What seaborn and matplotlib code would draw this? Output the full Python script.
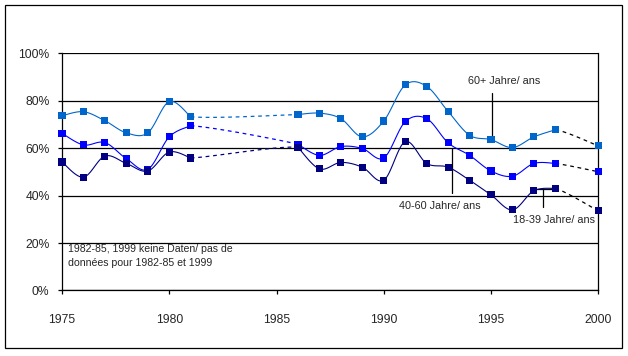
import numpy as np
import pandas as pd
import matplotlib
matplotlib.use("Agg")
import matplotlib.pyplot as plt
from matplotlib.patches import Rectangle
from matplotlib.ticker import FuncFormatter
import seaborn as sns

years = [1975, 1976, 1977, 1978, 1979, 1980, 1981,
         1986, 1987, 1988, 1989, 1990, 1991, 1992, 1993, 1994, 1995, 1996, 1997, 1998,
         2000]
pct_60 = [73.7, 75.4, 71.6, 66.5, 66.5, 79.7, 73.3,
          74.2, 74.8, 72.5, 64.8, 71.5, 86.7, 86.1, 75.5, 65.5, 63.6, 60.3, 64.8, 67.8,
          61.0]
pct_40 = [66.3, 61.4, 62.4, 55.6, 51.1, 64.8, 69.5,
          61.7, 57.0, 60.7, 59.9, 55.9, 71.2, 72.5, 62.3, 57.0, 50.4, 48.2, 53.6, 53.6,
          50.1]
pct_18 = [54.2, 47.8, 56.7, 53.6, 50.4, 58.4, 55.9,
          60.4, 51.3, 54.0, 52.0, 46.5, 62.8, 53.6, 52.0, 46.5, 40.3, 34.0, 42.1, 43.1,
          33.6]
labels = ["60+ Jahre/ ans", "40-60 Jahre/ ans", "18-39 Jahre/ ans"]
colors = ["#0066CC", "#0000FF", "#000080"]
note = "1982-85, 1999 keine Daten/ pas de\ndonnées pour 1982-85 et 1999"

df = pd.DataFrame({"year": years, labels[0]: pct_60, labels[1]: pct_40, labels[2]: pct_18})
long = df.melt(id_vars="year", var_name="group", value_name="pct")

sns.set_style("white")
plt.rcParams['font.family'] = ['Liberation Sans', 'DejaVu Sans']

fig = plt.figure(figsize=(6.28, 3.56), dpi=100)
ax = fig.add_axes([0.0987, 0.184, 0.854, 0.666])


def bez(p0, p1, p2, p3, n=30):
    # excel-like smoothing: bezier with catmull-rom control points
    c1 = p1 + (p2 - p0) / 6
    c2 = p2 - (p3 - p1) / 6
    t = np.linspace(0, 1, n)[:, None]
    return (1 - t) ** 3 * p1 + 3 * (1 - t) ** 2 * t * c1 + 3 * (1 - t) * t ** 2 * c2 + t ** 3 * p2


yr = np.array(years)
for lab, col in zip(labels, colors):
    p = np.column_stack([yr, df[lab].values]).astype(float)
    n = len(p)
    for i in range(n - 1):
        gap = yr[i + 1] - yr[i] > 1
        if gap:
            # dashed bridge, shaped by neighbours on both sides
            p0 = p[i - 1] if i > 0 else p[i]
            p3 = p[i + 2] if i + 2 < n else p[i + 1]
            s = bez(p0, p[i], p[i + 1], p3)
            dash_col = col if yr[i] < 1985 else "black"
            ax.plot(s[:, 0], s[:, 1], color=dash_col, lw=0.9, ls=(0, (3, 3)), zorder=3)
        else:
            # solid runs are smoothed on their own
            p0 = p[i - 1] if i > 0 and yr[i] - yr[i - 1] == 1 else p[i]
            p3 = p[i + 2] if i + 2 < n and yr[i + 2] - yr[i + 1] == 1 else p[i + 1]
            s = bez(p0, p[i], p[i + 1], p3)
            ax.plot(s[:, 0], s[:, 1], color=col, lw=0.8, zorder=3)

sns.scatterplot(data=long, x="year", y="pct", hue="group", palette=dict(zip(labels, colors)),
                marker="s", s=26, edgecolor="none", legend=False, ax=ax, zorder=4, clip_on=False)

ax.set_xlim(1975, 2000)
ax.set_ylim(0, 100)
ax.set_xticks(range(1975, 2001, 5))
ax.set_yticks(range(0, 101, 20))
ax.yaxis.set_major_formatter(FuncFormatter(lambda v, _: f"{v:.0f}%"))
ax.grid(axis="y", color="black", lw=0.9)
ax.set_axisbelow(True)
ax.set_xlabel("")
ax.set_ylabel("")
for side in ["left", "bottom", "right"]:
    ax.spines[side].set_color("black")
    ax.spines[side].set_linewidth(0.9)
ax.spines["top"].set_visible(False)
ax.tick_params(axis="x", direction="out", length=3, width=0.9, pad=14, labelsize=8.7, color="black", bottom=True)
ax.tick_params(axis="y", direction="out", length=3, width=0.9, pad=6, labelsize=8.7, color="black", left=True)

# labels with leader lines
lk = dict(color="black", lw=0.9, zorder=2)
i95 = years.index(1995)
ax.plot([1995.05, 1995.05], [pct_60[i95], 83.2], **lk)
ax.text(1995.6, 88.3, labels[0], fontsize=7.8, ha="center", va="center")

i93 = years.index(1993)
ax.plot([1993.17, 1993.17], [pct_40[i93] - 2, 41.0], **lk)
ax.text(1992.6, 35.6, labels[1], fontsize=7.8, ha="center", va="center")

i97, i98 = years.index(1997), years.index(1998)
yh = (pct_18[i97] + pct_18[i98]) / 2
ax.plot([years[i97], years[i98]], [yh, yh], **lk)
ax.plot([1997.43, 1997.43], [yh, 35.2], **lk)
ax.text(1997.92, 29.7, labels[2], fontsize=7.8, ha="center", va="center")

ax.text(1975.28, 19.6, note, fontsize=7.6, va="top", ha="left", linespacing=1.55)

fig.patches.append(Rectangle((0.008, 0.0225), 0.9825, 0.9635, transform=fig.transFigure,
                             fill=False, edgecolor="black", lw=0.9))

fig.savefig("out.png", dpi=100)
